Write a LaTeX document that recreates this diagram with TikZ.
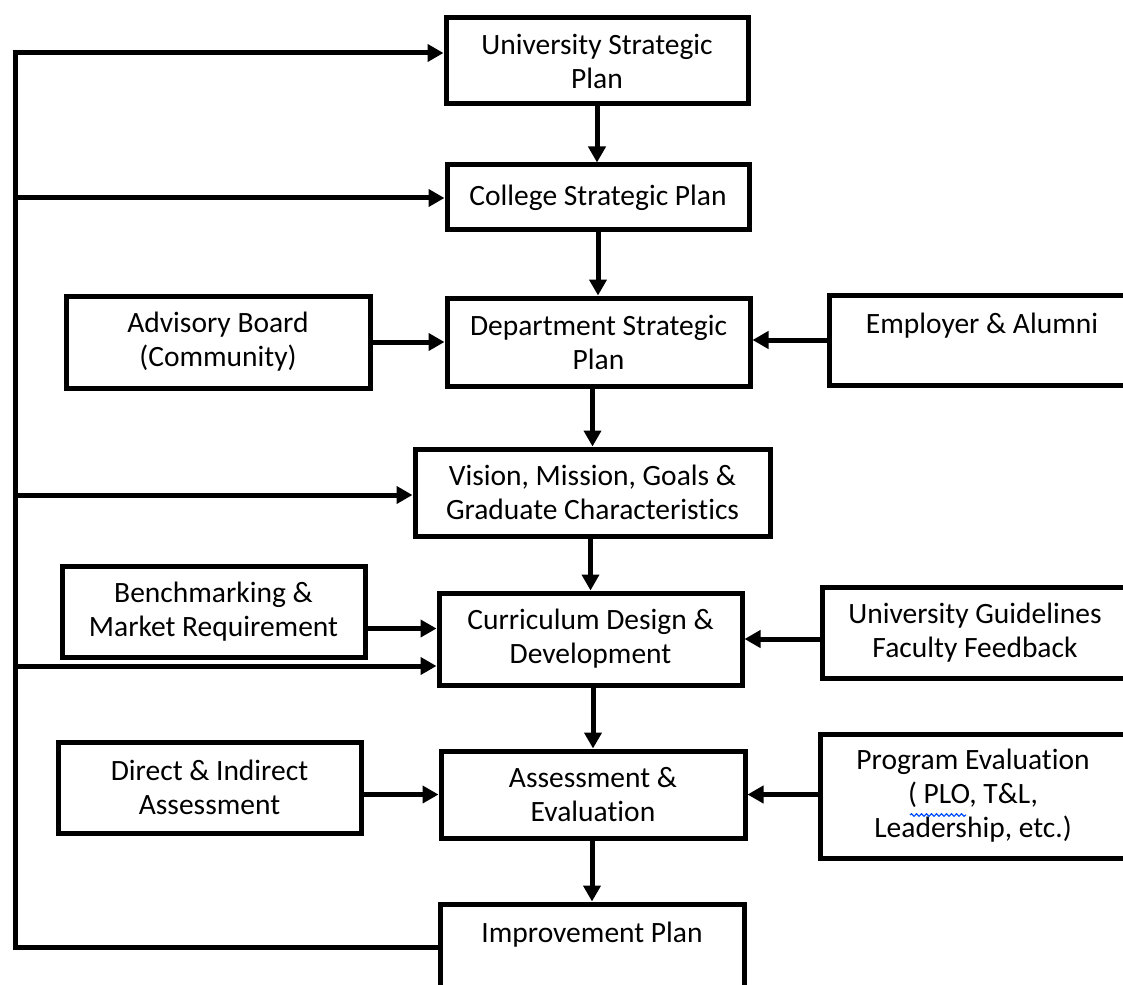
\documentclass[tikz,border=0pt]{standalone}
\usepackage{fontspec}
\setmainfont{Carlito}[Ligatures={NoCommon}]
\usetikzlibrary{arrows.meta,calc,decorations.pathmorphing}
\begin{document}
\begin{tikzpicture}[x=1pt,y=-1pt,
  box/.style={draw, line width=5pt, inner sep=0pt, align=center, fill=white,
    font=\fontsize{29.5}{34}\selectfont},
  link/.style={line width=5pt, line join=miter},
  arr/.style={line width=5pt, -{Triangle[length=16pt,width=17pt]}},
  spell/.style={draw=blue!70!cyan, line width=1.2pt, decorate,
    decoration={snake, amplitude=1.3pt, segment length=5pt}}]
\useasboundingbox (0,0) rectangle (1123,984);
\clip (0,0) rectangle (1123,984);
\fill[white] (0,0) rectangle (1123,984);

% main column
\node[box, minimum width=302pt, minimum height=86pt] (U) at (597,61) {University Strategic\\Plan};
\node[box, minimum width=302pt, minimum height=65pt] (C) at (598,197.5) {College Strategic Plan};
\node[box, minimum width=303pt, minimum height=88pt] (D) at (598.5,342) {Department Strategic\\Plan};
\node[box, minimum width=355pt, minimum height=87pt] (V) at (592.5,492.5) {Vision, Mission, Goals \&\\Graduate Characteristics};
\node[box, minimum width=303pt, minimum height=92pt] (Cu) at (590.5,639) {Curriculum Design \&\\Development};
\node[box, minimum width=304pt, minimum height=87pt] (A) at (593,794.5) {Assessment \&\\Evaluation};
\node[box, minimum width=304pt, minimum height=92pt] (I) at (592,950) {Improvement Plan\\[2pt]~};

% left inputs
\node[box, minimum width=304pt, minimum height=92pt] (AB) at (218,342) {Advisory Board\\(Community)};
\node[box, minimum width=303pt, minimum height=91pt] (BM) at (213.5,611.5) {Benchmarking \&\\Market Requirement};
\node[box, minimum width=303pt, minimum height=91pt] (DI) at (209.5,787.5) {Direct \& Indirect\\Assessment};

% right inputs
\node[box, minimum width=305pt, minimum height=90pt] (E) at (982,340) {Employer \& Alumni\\~};
\node[box, minimum width=306pt, minimum height=91pt] (UG) at (975,632.5) {University Guidelines\\Faculty Feedback};
\node[box, minimum width=306pt, minimum height=124pt] (PE) at (973,796) {Program Evaluation\\( PLO, T\&L,\\Leadership, etc.)};

% spell-check underline under PLO
\draw[spell] (910,815) -- (966,815);

% vertical flow
\draw[arr] (U.south) -- (U.south |- C.north);
\draw[arr] (C.south) -- (C.south |- D.north);
\draw[arr] (D.south -| V.north) -- (V.north);
\draw[arr] (V.south -| Cu.north) -- (Cu.north);
\draw[arr] (Cu.south -| A.north) -- (A.north);
\draw[arr] (A.south -| I.north) -- (I.north);

% side inputs
\coordinate (bmo) at ([yshift=-17pt]BM.east);
\draw[arr] (AB.east) -- (AB.east -| D.west);
\draw[arr] (E.west) -- (E.west -| D.east);
\draw[arr] (bmo) -- (bmo -| Cu.west);
\draw[arr] (UG.west |- Cu.east) -- (Cu.east);
\draw[arr] (DI.east |- A.west) -- (A.west);
\draw[arr] (PE.west |- A.east) -- (A.east);

% feedback bus
\coordinate (fU) at (15,53);
\coordinate (fC) at (15,198);
\coordinate (fV) at (15,495);
\coordinate (fCu) at (15,666);
\coordinate (fI) at (15,947);
\draw[link] (I.west |- fI) -- (fI) -- ([yshift=2.5pt]fU);
\draw[arr] ([xshift=-2.5pt]fU) -- (fU -| U.west);
\draw[arr] (fC) -- (fC -| C.west);
\draw[arr] (fV) -- (fV -| V.west);
\draw[arr] (fCu) -- (fCu -| Cu.west);
\end{tikzpicture}
\end{document}
